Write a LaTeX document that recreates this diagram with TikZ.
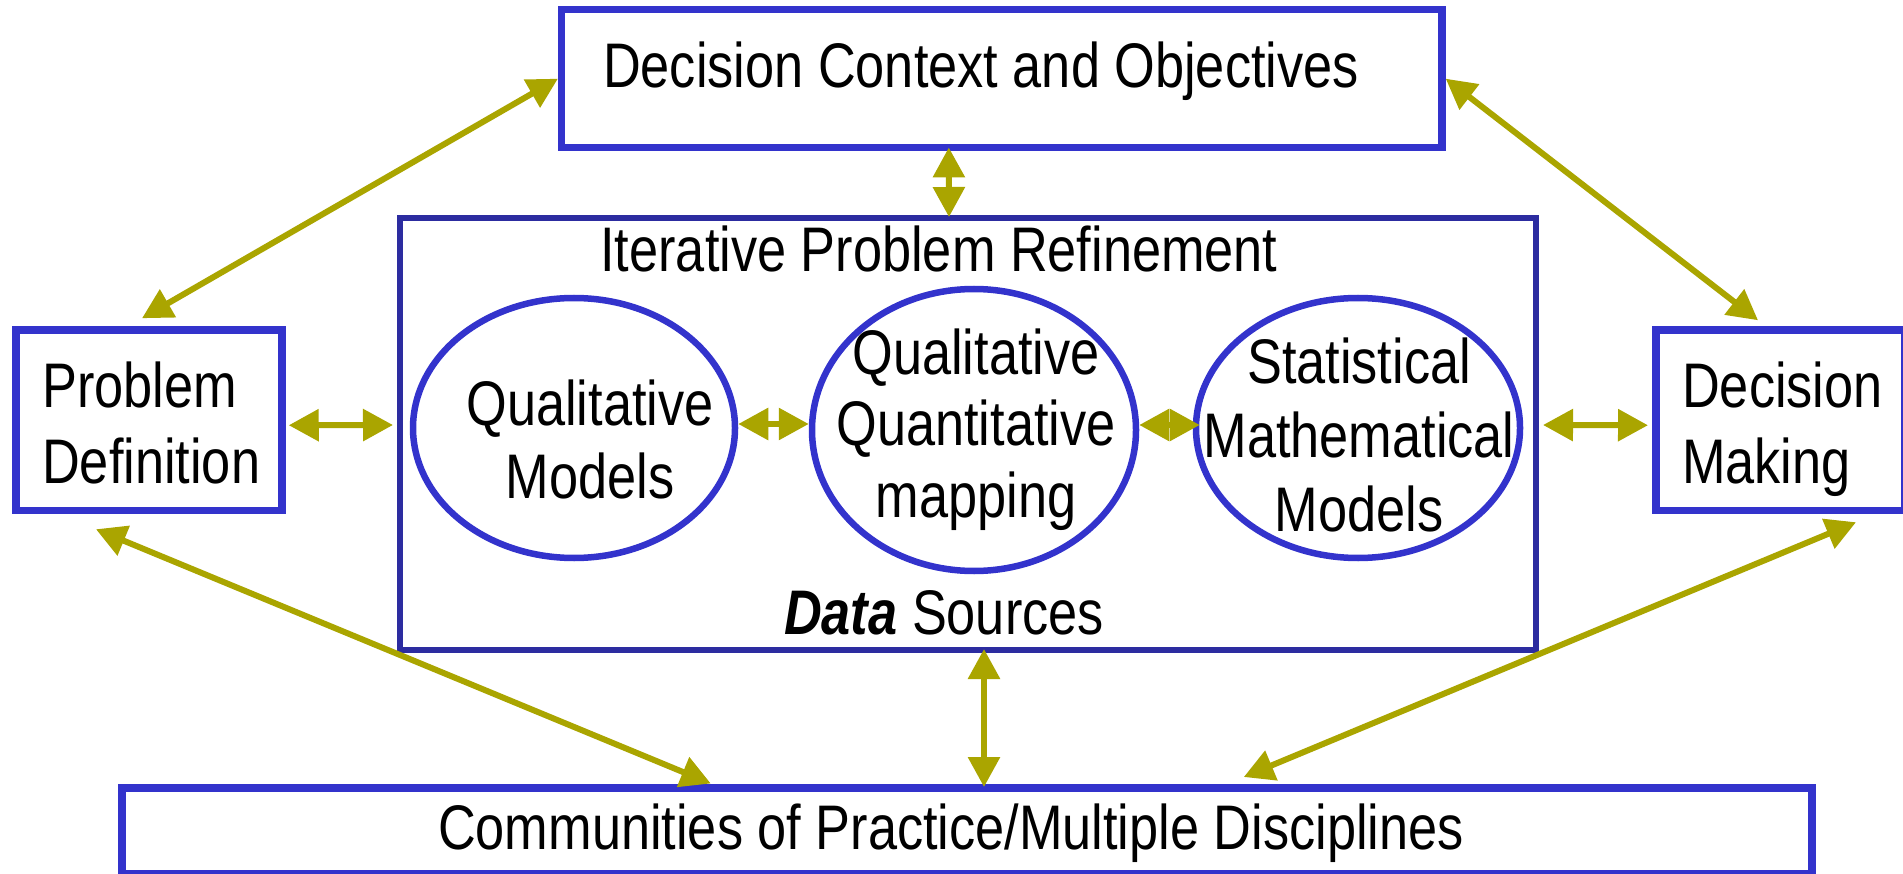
\documentclass[tikz,border=0pt]{standalone}
\usepackage{fontspec}
\setmainfont[FakeStretch=0.83]{Liberation Sans}
\usetikzlibrary{arrows.meta,shapes.geometric}
\definecolor{boxblue}{RGB}{51,51,204}
\definecolor{midblue}{RGB}{44,44,160}
\definecolor{olivearrow}{RGB}{170,165,0}
\begin{document}
\begin{tikzpicture}[x=1pt,y=-1pt,
  box/.style={draw=boxblue, line width=7.5pt, rectangle, inner sep=0pt},
  ell/.style={draw=boxblue, line width=6.5pt, ellipse, inner sep=0pt},
  txt/.style={font=\fontsize{63}{75}\selectfont, inner sep=0pt, anchor=base},
  dbl/.style={draw=olivearrow, line width=6pt, {Triangle[length=30pt,width=31pt]}-{Triangle[length=30pt,width=31pt]}}]
\useasboundingbox (0,0) rectangle (1903,874);
% boxes
\node[box, minimum width=880.3pt, minimum height=138pt] (ctx) at (1001.8,78.7) {};
\node[draw=midblue, line width=6pt, inner sep=0pt, minimum width=1136pt, minimum height=432pt] (mid) at (968,434) {};
\node[box, minimum width=266pt, minimum height=180.5pt] (pd) at (149,420.25) {};
\node[box, minimum width=248.5pt, minimum height=180.5pt] (dm) at (1780,420.25) {};
\node[box, line width=8pt, minimum width=1690.5pt, minimum height=86.5pt] (bot) at (966.75,830.75) {};
\node[ell, minimum width=322pt, minimum height=260pt] (q1) at (574,428) {};
\node[ell, minimum width=324pt, minimum height=282pt] (q2) at (974,430) {};
\node[ell, minimum width=324pt, minimum height=260pt] (q3) at (1358,428) {};
% texts (base anchor = baseline of the last line)
\node[txt] (tctx) at (981,88) {Decision Context and Objectives};
\node[txt] (tmid) at (939,272) {Iterative Problem Refinement};
\node[txt, font=\fontsize{63}{76}\selectfont, align=left, anchor=base west] (tpd) at (42,483) {Problem\\Definition};
\node[txt, font=\fontsize{63}{76}\selectfont, align=left, anchor=base west] (tdm) at (1682,483) {Decision\\Making};
\node[txt, font=\fontsize{63}{73}\selectfont, align=center] (tq1) at (590,498) {Qualitative\\Models};
\node[txt, font=\fontsize{63}{71.5}\selectfont, align=center] (tq2) at (976,517) {Qualitative\\Quantitative\\mapping};
\node[txt, font=\fontsize{63}{74}\selectfont, align=center] (tq3) at (1359,531) {Statistical\\Mathematical\\Models};
\node[txt] (tdata) at (944,634) {\textbf{\textit{Data}} Sources};
\node[txt] (tbot) at (951,849) {Communities of Practice/Multiple Disciplines};
% connectors
\draw[dbl] (ctx.west) -- ([xshift=-7pt,yshift=8pt]pd.north);
\draw[dbl] (ctx.east) -- ([xshift=-22pt,yshift=6pt]dm.north);
\draw[dbl] ([xshift=-53pt,yshift=4pt]ctx.south) -- ([xshift=-19pt,yshift=-2pt]mid.north);
\draw[dbl] ([xshift=3pt,yshift=-5pt]pd.east) -- ([xshift=-4pt,yshift=9pt]mid.west);
\draw[dbl] ([yshift=4pt]q1.east) -- ([yshift=6pt]q2.west);
\draw[dbl] ([yshift=5pt]q2.east) -- ([xshift=7pt,yshift=3pt]q3.west);
\draw[dbl] ([xshift=4pt,yshift=9pt]mid.east) -- ([xshift=-4pt,yshift=-5pt]dm.west);
\draw[dbl] ([xshift=16pt,yshift=4pt]mid.south) -- ([xshift=17.25pt,yshift=-3.5pt]bot.north);
\draw[dbl] ([xshift=-53pt,yshift=-15pt]pd.south) -- ([xshift=-256pt]bot.north);
\draw[dbl] ([xshift=76pt,yshift=-8pt]dm.south) -- ([xshift=277pt,yshift=6.5pt]bot.north);
\end{tikzpicture}
\end{document}
